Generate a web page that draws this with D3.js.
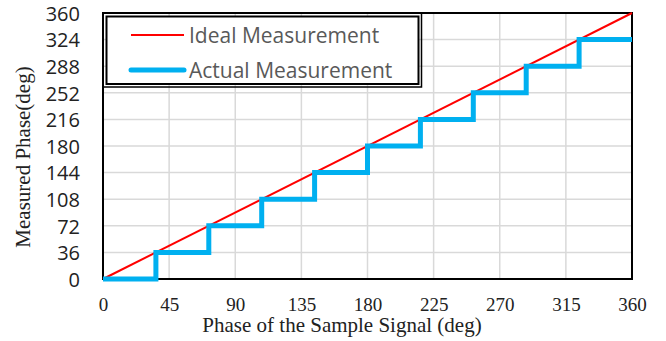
<!DOCTYPE html>
<html>
<head>
<meta charset="utf-8">
<script src="https://cdn.jsdelivr.net/npm/d3@7"></script>
<style>
  body { margin: 0; background: #fff; }
</style>
</head>
<body>
<div id="chart"></div>
<script>
// phase data (deg)
const idealX = [0, 360];
const idealY = [0, 360];
const actualX = [0, 36, 72, 108, 144, 180, 216, 252, 288, 324, 360];
const actualY = [0, 36, 72, 108, 144, 180, 216, 252, 288, 324, 324];
const xTicks = [0, 45, 90, 135, 180, 225, 270, 315, 360];
const yTicks = [0, 36, 72, 108, 144, 180, 216, 252, 288, 324, 360];
const seriesNames = ["Ideal Measurement", "Actual Measurement"];

const width = 666, height = 341;
const margin = { top: 13, right: 34, bottom: 62, left: 103 };
const serif = "'Liberation Serif', 'Times New Roman', serif";
const sans = "'Open Sans', 'Noto Sans', sans-serif";

const svg = d3.select("#chart").append("svg")
  .attr("width", width)
  .attr("height", height);

const x = d3.scaleLinear().domain([0, 360]).range([margin.left, width - margin.right]);
const y = d3.scaleLinear().domain([0, 360]).range([height - margin.bottom, margin.top]);

// grid
const grid = svg.append("g").attr("stroke", "#d9d9d9").attr("stroke-width", 1.5);
grid.selectAll("line.h").data(yTicks).enter().append("line")
  .attr("x1", x(0)).attr("x2", x(360))
  .attr("y1", d => y(d)).attr("y2", d => y(d));
grid.selectAll("line.v").data(xTicks.slice(1, -1)).enter().append("line")
  .attr("y1", y(0)).attr("y2", y(360))
  .attr("x1", d => x(d)).attr("x2", d => x(d));

// frame
svg.append("rect")
  .attr("x", x(0)).attr("y", y(360))
  .attr("width", x(360) - x(0)).attr("height", y(0) - y(360))
  .attr("fill", "none").attr("stroke", "#000").attr("stroke-width", 2);

// axes (labels only)
const xAxis = svg.append("g")
  .attr("transform", "translate(0," + (y(0) + 15) + ")")
  .call(d3.axisBottom(x).tickValues(xTicks).tickSize(0).tickFormat(d3.format("d")));
xAxis.select(".domain").remove();
xAxis.selectAll("text")
  .style("font-family", serif).style("font-size", "19px").attr("fill", "#222");

const yAxis = svg.append("g")
  .attr("transform", "translate(" + (x(0) - 23) + ",0)")
  .call(d3.axisLeft(y).tickValues(yTicks).tickSize(0).tickPadding(0));
yAxis.select(".domain").remove();
yAxis.selectAll("text")
  .style("font-family", sans).style("font-size", "20px").attr("fill", "#222")
  .attr("dy", "0.36em");

// axis titles
svg.append("text")
  .attr("x", 342).attr("y", 332)
  .attr("text-anchor", "middle")
  .style("font-family", serif).style("font-size", "21px").attr("fill", "#222")
  .text("Phase of the Sample Signal (deg)");

svg.append("text")
  .attr("transform", "translate(30,157) rotate(-90)")
  .attr("text-anchor", "middle")
  .style("font-family", serif).style("font-size", "21px").attr("fill", "#222")
  .text("Measured Phase(deg)");

// series
const ideal = d3.line().x(d => x(d[0])).y(d => y(d[1]));
svg.append("path")
  .datum(d3.zip(idealX, idealY))
  .attr("d", ideal)
  .attr("fill", "none").attr("stroke", "#ff0000").attr("stroke-width", 2);

const actual = d3.line().x(d => x(d[0])).y(d => y(d[1])).curve(d3.curveStepAfter);
svg.append("path")
  .datum(d3.zip(actualX, actualY))
  .attr("d", actual)
  .attr("fill", "none").attr("stroke", "#00b0f0").attr("stroke-width", 5);

// legend
const lg = svg.append("g");
lg.append("rect")
  .attr("x", 103).attr("y", 13).attr("width", 318.5).attr("height", 74)
  .attr("fill", "none").attr("stroke", "#000").attr("stroke-width", 1.5);
lg.append("rect")
  .attr("x", 106.5).attr("y", 16.5).attr("width", 312).attr("height", 67.5)
  .attr("fill", "#fff").attr("stroke", "#000").attr("stroke-width", 2);

const colors = ["#ff0000", "#00b0f0"];
const widths = [2, 5];
seriesNames.forEach((name, i) => {
  const ly = 35 + i * 35;
  lg.append("line")
    .attr("x1", 131).attr("x2", 184).attr("y1", ly).attr("y2", ly)
    .attr("stroke", colors[i]).attr("stroke-width", widths[i])
    .attr("stroke-linecap", i ? "round" : "butt");
  lg.append("text")
    .attr("x", 189).attr("y", ly).attr("dy", "0.36em")
    .style("font-family", sans).style("font-size", "21px").attr("fill", "#595959")
    .text(name);
});
</script>
</body>
</html>
